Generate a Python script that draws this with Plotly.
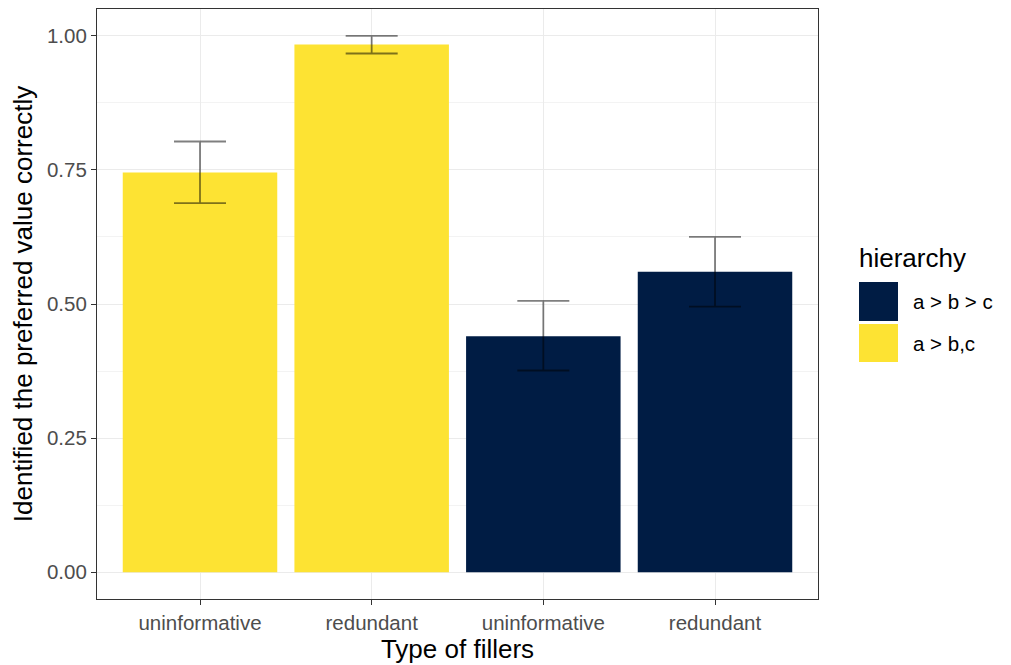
import plotly.graph_objects as go

# Data
x_labels = ["uninformative", "redundant", "uninformative", "redundant"]
hierarchy = ["a > b,c", "a > b,c", "a > b > c", "a > b > c"]
means = [0.745, 0.984, 0.440, 0.560]
lower = [0.688, 0.967, 0.376, 0.495]
upper = [0.803, 1.000, 0.506, 0.625]

legend_order = ["a > b > c", "a > b,c"]
colors = {"a > b > c": "#001C44", "a > b,c": "#FDE333"}

positions = list(range(1, len(x_labels) + 1))

fig = go.Figure()
for h in legend_order:
    idx = [i for i, g in enumerate(hierarchy) if g == h]
    fig.add_trace(go.Bar(
        x=[positions[i] for i in idx],
        y=[means[i] for i in idx],
        width=0.9,
        marker=dict(color=colors[h], line=dict(width=0)),
        name=h,
        showlegend=False,
        error_y=dict(
            type="data", symmetric=False,
            array=[upper[i] - means[i] for i in idx],
            arrayminus=[means[i] - lower[i] for i in idx],
            color="rgba(0,0,0,0.5)", thickness=1.8, width=26,
        ),
    ))

# page body has an 8px margin, so the figure is sized to fit the window
W, H = 1003, 657
l, r, t, b = 89, 193, 1, 66
pw, ph = W - l - r, H - t - b

def px(x):
    return (x - l) / pw

def py(y):
    return (H - b - y) / ph

fig.update_layout(
    width=W, height=H,
    margin=dict(l=l, r=r, t=t, b=b, autoexpand=False),
    paper_bgcolor="white", plot_bgcolor="white",
    barmode="overlay",
    font=dict(family="Liberation Sans, Arial, sans-serif"),
    showlegend=False,
)

# ggplot-style legend (figure pixel coordinates)
fig.add_annotation(x=px(849), y=py(250), xref="paper", yref="paper", text="hierarchy",
                   showarrow=False, xanchor="left", yanchor="middle",
                   font=dict(size=26, color="black"))
key_y = [(274, 313), (316, 354)]
for (y0, y1), h in zip(key_y, legend_order):
    fig.add_shape(type="rect", xref="paper", yref="paper",
                  x0=px(851), x1=px(890), y0=py(y1), y1=py(y0),
                  fillcolor=colors[h], line=dict(width=0))
    fig.add_annotation(x=px(903), y=py((y0 + y1) / 2), xref="paper", yref="paper",
                       text=h, showarrow=False, xanchor="left", yanchor="middle",
                       font=dict(size=20.5, color="black"))

fig.update_xaxes(
    range=[0.4, 4.6],
    tickmode="array", tickvals=positions, ticktext=x_labels,
    ticks="outside", ticklen=5, tickcolor="#333333", tickwidth=1.2,
    tickfont=dict(size=20.5, color="#4D4D4D"),
    showgrid=True, gridcolor="#EBEBEB", gridwidth=1.2,
    showline=True, linecolor="#333333", linewidth=1.2, mirror=True,
    zeroline=False,
    title=dict(text="Type of fillers", font=dict(size=26, color="black"), standoff=2),
)
fig.update_yaxes(
    range=[-0.05, 1.05],
    tickmode="array", tickvals=[0, 0.25, 0.5, 0.75, 1.0],
    ticktext=["0.00", "0.25", "0.50", "0.75", "1.00"],
    ticks="outside", ticklen=5, tickcolor="#333333", tickwidth=1.2,
    tickfont=dict(size=20.5, color="#4D4D4D"),
    showgrid=True, gridcolor="#EBEBEB", gridwidth=1.2,
    minor=dict(tickmode="array", tickvals=[0.125, 0.375, 0.625, 0.875],
               showgrid=True, gridcolor="#F3F3F3", gridwidth=0.8, ticks=""),
    showline=True, linecolor="#333333", linewidth=1.2, mirror=True,
    zeroline=False,
    title=dict(text="Identified the preferred value correctly",
               font=dict(size=26, color="black"), standoff=6),
)

fig.write_html("out.html")
